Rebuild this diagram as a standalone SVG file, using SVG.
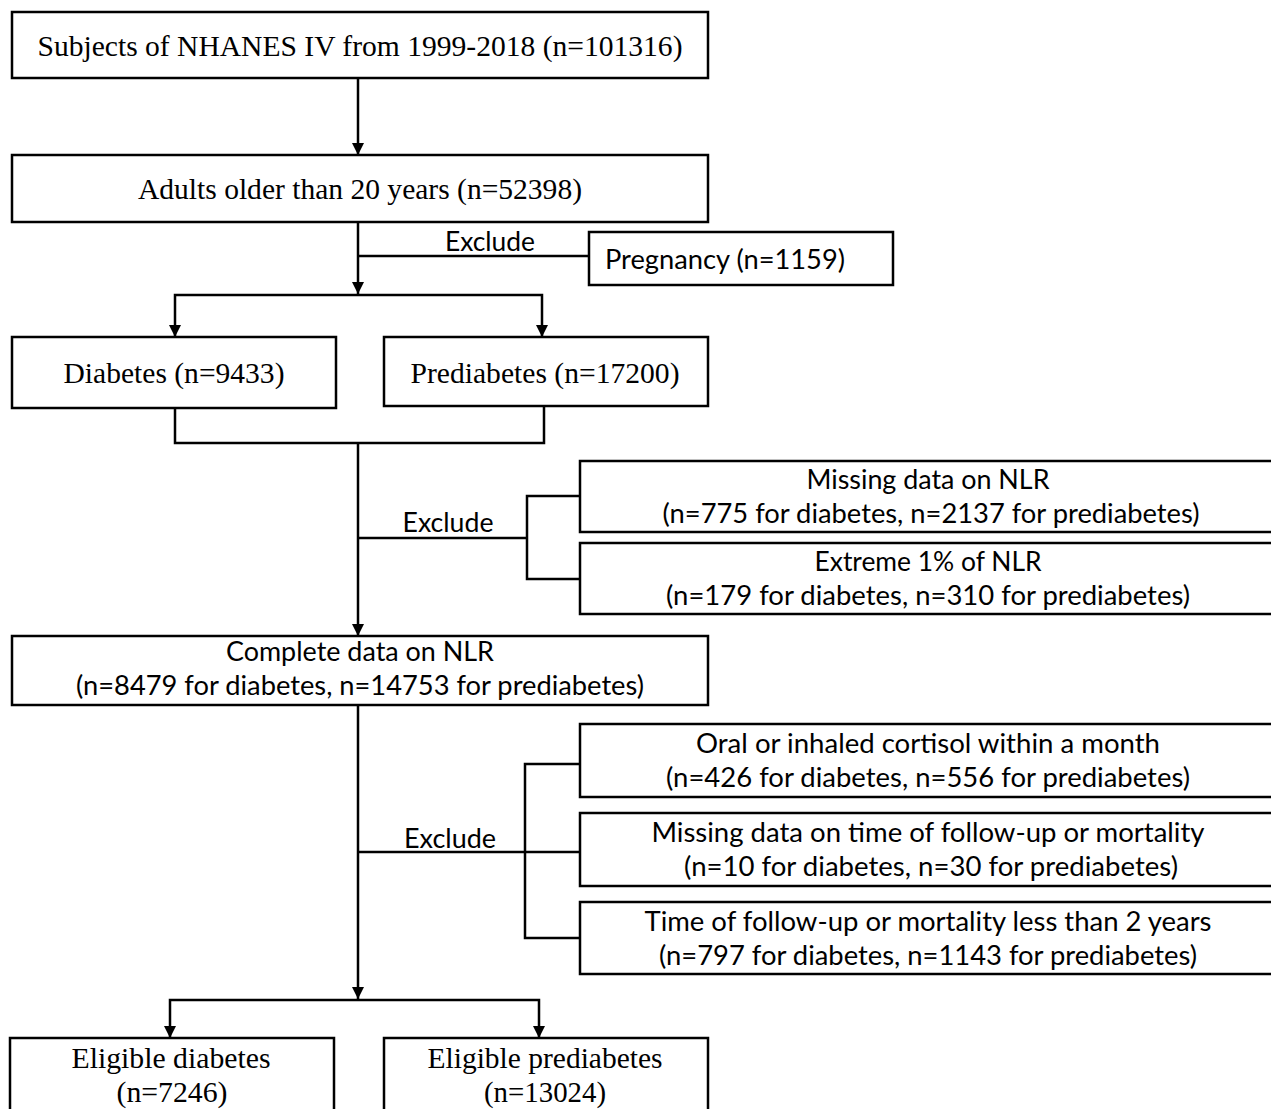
<svg xmlns="http://www.w3.org/2000/svg" width="1271" height="1109" viewBox="0 0 1271 1109">
<defs>
<marker id="arr" markerUnits="userSpaceOnUse" markerWidth="12" markerHeight="14" refX="12" refY="6" orient="auto" viewBox="0 0 12 12">
<path d="M0,0 L12,6 L0,12 Z" fill="#000"/>
</marker>
<style>
.box{fill:#fff;stroke:#000;stroke-width:2.5}
.ser{font-family:"Liberation Serif","Times New Roman",serif;font-size:29px;fill:#000;text-anchor:middle}
.san{font-family:Lato,"Liberation Sans",sans-serif;font-size:26px;fill:#000;text-anchor:middle}
.ln{fill:none;stroke:#000;stroke-width:2.5}
.ar{fill:none;stroke:#000;stroke-width:2.5;marker-end:url(#arr)}
</style>
</defs>
<rect width="1271" height="1109" fill="#fff"/>
<g id="connectors">
<path class="ar" d="M358 78 V155"/>
<path class="ar" d="M358 222 V294"/>
<path class="ln" d="M358 256 H589"/>
<path class="ar" d="M358 295 H175 V337"/>
<path class="ar" d="M358 295 H542 V337"/>
<path class="ln" d="M175 408 V443 H544 V406"/>
<path class="ar" d="M358 443 V636"/>
<path class="ln" d="M358 538 H527"/>
<path class="ln" d="M580 496 H527 V579 H580"/>
<path class="ar" d="M358 705 V999"/>
<path class="ln" d="M358 852 H580"/>
<path class="ln" d="M580 764 H525 V938 H580"/>
<path class="ar" d="M358 1000 H170 V1038"/>
<path class="ar" d="M358 1000 H539 V1038"/>
<text class="san" x="490" y="251" textLength="90" lengthAdjust="spacingAndGlyphs">Exclude</text>
<text class="san" x="448" y="532" textLength="91" lengthAdjust="spacingAndGlyphs">Exclude</text>
<text class="san" x="450" y="848" textLength="92" lengthAdjust="spacingAndGlyphs">Exclude</text>
</g>
<g id="n1">
<rect class="box" x="12" y="12" width="696" height="66"/>
<text class="ser" x="360" y="56" textLength="645" lengthAdjust="spacingAndGlyphs">Subjects of NHANES IV from 1999-2018 (n=101316)</text>
</g>
<g id="n2">
<rect class="box" x="12" y="155" width="696" height="67"/>
<text class="ser" x="360" y="199" textLength="444" lengthAdjust="spacingAndGlyphs">Adults older than 20 years (n=52398)</text>
</g>
<g id="n_preg">
<rect class="box" x="589" y="232" width="304" height="53"/>
<text class="san" x="725" y="269" textLength="240" lengthAdjust="spacingAndGlyphs">Pregnancy (n=1159)</text>
</g>
<g id="n_diab">
<rect class="box" x="12" y="337" width="324" height="71"/>
<text class="ser" x="174" y="383" textLength="221" lengthAdjust="spacingAndGlyphs">Diabetes (n=9433)</text>
</g>
<g id="n_prediab">
<rect class="box" x="384" y="337" width="324" height="69"/>
<text class="ser" x="545" y="383" textLength="269" lengthAdjust="spacingAndGlyphs">Prediabetes (n=17200)</text>
</g>
<g id="n_missnlr">
<rect class="box" x="580" y="461" width="700" height="71"/>
<text class="san" x="928" y="489" textLength="243" lengthAdjust="spacingAndGlyphs">Missing data on NLR</text>
<text class="san" x="931" y="523" textLength="537" lengthAdjust="spacingAndGlyphs">(n=775 for diabetes, n=2137 for prediabetes)</text>
</g>
<g id="n_extreme">
<rect class="box" x="580" y="543" width="700" height="71"/>
<text class="san" x="928" y="571" textLength="227" lengthAdjust="spacingAndGlyphs">Extreme 1% of NLR</text>
<text class="san" x="928" y="605" textLength="524" lengthAdjust="spacingAndGlyphs">(n=179 for diabetes, n=310 for prediabetes)</text>
</g>
<g id="n_complete">
<rect class="box" x="12" y="636" width="696" height="69"/>
<text class="san" x="360" y="661" textLength="268" lengthAdjust="spacingAndGlyphs">Complete data on NLR</text>
<text class="san" x="360" y="695" textLength="568" lengthAdjust="spacingAndGlyphs">(n=8479 for diabetes, n=14753 for prediabetes)</text>
</g>
<g id="n_cortisol">
<rect class="box" x="580" y="724" width="700" height="73"/>
<text class="san" x="928" y="753" textLength="464" lengthAdjust="spacingAndGlyphs">Oral or inhaled cortisol within a month</text>
<text class="san" x="928" y="787" textLength="524" lengthAdjust="spacingAndGlyphs">(n=426 for diabetes, n=556 for prediabetes)</text>
</g>
<g id="n_missfu">
<rect class="box" x="580" y="813" width="700" height="73"/>
<text class="san" x="928" y="842" textLength="553" lengthAdjust="spacingAndGlyphs">Missing data on time of follow-up or mortality</text>
<text class="san" x="931" y="876" textLength="494" lengthAdjust="spacingAndGlyphs">(n=10 for diabetes, n=30 for prediabetes)</text>
</g>
<g id="n_time">
<rect class="box" x="580" y="902" width="700" height="72"/>
<text class="san" x="928" y="931" textLength="567" lengthAdjust="spacingAndGlyphs">Time of follow-up or mortality less than 2 years</text>
<text class="san" x="928" y="965" textLength="538" lengthAdjust="spacingAndGlyphs">(n=797 for diabetes, n=1143 for prediabetes)</text>
</g>
<g id="n_eldiab">
<rect class="box" x="10" y="1038" width="324" height="90"/>
<text class="ser" x="171" y="1068" textLength="199" lengthAdjust="spacingAndGlyphs">Eligible diabetes</text>
<text class="ser" x="172" y="1102" textLength="111" lengthAdjust="spacingAndGlyphs">(n=7246)</text>
</g>
<g id="n_elprediab">
<rect class="box" x="384" y="1038" width="324" height="90"/>
<text class="ser" x="545" y="1068" textLength="235" lengthAdjust="spacingAndGlyphs">Eligible prediabetes</text>
<text class="ser" x="545" y="1102" textLength="122" lengthAdjust="spacingAndGlyphs">(n=13024)</text>
</g>
</svg>
